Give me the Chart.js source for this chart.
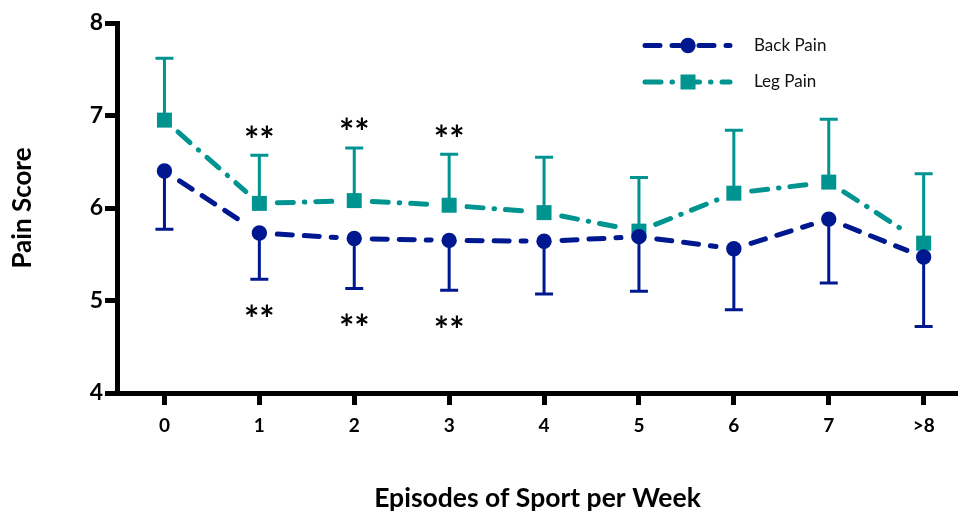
<!DOCTYPE html>
<html>
<head>
<meta charset="utf-8">
<script src="https://cdn.jsdelivr.net/npm/chart.js@4.4.1/dist/chart.umd.min.js"></script>
<style>
  html, body { margin: 0; padding: 0; background: #ffffff; }
  #wrap { width: 958px; height: 511px; }
</style>
</head>
<body>
<div id="wrap"><canvas id="chart" width="958" height="511"></canvas></div>
<script>
// Episodes of sport per week (x categories)
const categories = ['0', '1', '2', '3', '4', '5', '6', '7', '>8'];
// Mean pain scores
const backPain = [6.40, 5.73, 5.67, 5.65, 5.64, 5.69, 5.56, 5.88, 5.47];
const legPain  = [6.95, 6.05, 6.08, 6.03, 5.95, 5.75, 6.16, 6.28, 5.62];
// Error bar lengths (back drawn downward, leg drawn upward)
const backErr = [0.63, 0.50, 0.54, 0.54, 0.57, 0.59, 0.66, 0.69, 0.75];
const legErr  = [0.67, 0.52, 0.57, 0.55, 0.60, 0.58, 0.68, 0.68, 0.75];
// Y axis ticks
const yTicks = [4, 5, 6, 7, 8];
// Categories flagged as significant (**)
const significant = [1, 2, 3];

const BACK = '#00188f';
const LEG = '#009490';
const BACK_DASH = [15, 12];
const LEG_DASH = [16, 11, 0.5, 11];
const FONT = 'Lato';
const MARKER_GAP = 18;

function toPoints(values) {
  return values.map((v, i) => ({ x: i, y: v }));
}

// Connecting lines that stop short of each marker, plus error bars
const seriesLines = {
  id: 'seriesLines',
  beforeDatasetsDraw(chart) {
    const ctx = chart.ctx;
    const yScale = chart.scales.y;
    for (let d = chart.data.datasets.length - 1; d >= 0; d--) {
      const ds = chart.data.datasets[d];
      const meta = chart.getDatasetMeta(d);
      const pts = meta.data;
      ctx.save();
      ctx.strokeStyle = ds.lineColor;
      ctx.lineWidth = 5;
      ctx.lineCap = 'round';
      ctx.setLineDash(ds.lineDash);
      for (let i = 0; i < pts.length - 1; i++) {
        const p = pts[i], q = pts[i + 1];
        const dx = q.x - p.x, dy = q.y - p.y;
        const len = Math.hypot(dx, dy);
        const ux = dx / len, uy = dy / len;
        ctx.lineDashOffset = 0;
        ctx.beginPath();
        ctx.moveTo(p.x + ux * MARKER_GAP, p.y + uy * MARKER_GAP);
        ctx.lineTo(q.x - ux * MARKER_GAP, q.y - uy * MARKER_GAP);
        ctx.stroke();
      }
      ctx.restore();

      // error bars
      ctx.save();
      ctx.strokeStyle = ds.lineColor;
      ctx.lineWidth = 3;
      ctx.lineCap = 'butt';
      ctx.setLineDash([]);
      pts.forEach((p, i) => {
        const v = ds.means[i];
        const end = ds.errDir > 0 ? v + ds.errors[i] : v - ds.errors[i];
        const ey = yScale.getPixelForValue(end);
        ctx.beginPath();
        ctx.moveTo(p.x, p.y);
        ctx.lineTo(p.x, ey);
        ctx.moveTo(p.x - 9, ey);
        ctx.lineTo(p.x + 9, ey);
        ctx.stroke();
      });
      ctx.restore();
    }
  },
  afterDatasetsDraw(chart) {
    const ctx = chart.ctx;
    const xs = chart.scales.x, ys = chart.scales.y;
    ctx.save();
    ctx.fillStyle = '#000';
    ctx.font = `bold 36px ${FONT}`;
    ctx.textAlign = 'center';
    ctx.textBaseline = 'alphabetic';
    const m = ctx.measureText('**');
    const shift = (m.actualBoundingBoxAscent - m.actualBoundingBoxDescent) / 2;
    significant.forEach(i => {
      const x = xs.getPixelForValue(i);
      const top = ys.getPixelForValue(legPain[i] + legErr[i]) - 24;
      const bot = ys.getPixelForValue(backPain[i] - backErr[i]) + 31;
      ctx.fillText('**', x, top + shift);
      ctx.fillText('**', x, bot + shift);
    });
    ctx.restore();
  },
  afterDraw(chart) {
    const ctx = chart.ctx;
    const items = [
      { label: 'Back Pain', color: BACK, dash: BACK_DASH, style: 'circle', y: 45.5 },
      { label: 'Leg Pain', color: LEG, dash: LEG_DASH, style: 'rect', y: 82 }
    ];
    items.forEach(it => {
      ctx.save();
      ctx.strokeStyle = it.color;
      ctx.fillStyle = it.color;
      ctx.lineWidth = 5;
      ctx.lineCap = 'round';
      ctx.setLineDash(it.dash);
      ctx.beginPath();
      ctx.moveTo(645, it.y);
      ctx.lineTo(730, it.y);
      ctx.stroke();
      ctx.setLineDash([]);
      if (it.style === 'circle') {
        ctx.beginPath();
        ctx.arc(688, it.y, 7.7, 0, Math.PI * 2);
        ctx.fill();
      } else {
        ctx.fillRect(688 - 7.5, it.y - 7.5, 15, 15);
      }
      ctx.fillStyle = '#111';
      ctx.font = `17px ${FONT}`;
      ctx.textAlign = 'left';
      ctx.textBaseline = 'middle';
      ctx.fillText(it.label, 754, it.y);
      ctx.restore();
    });
  }
};

const axisGrid = {
  drawOnChartArea: false,
  drawTicks: true,
  tickLength: 12,
  tickWidth: 5,
  tickColor: '#000'
};
const axisBorder = { display: true, width: 5, color: '#000' };

new Chart(document.getElementById('chart'), {
  type: 'line',
  data: {
    datasets: [
      {
        label: 'Back Pain',
        data: toPoints(backPain),
        means: backPain,
        errors: backErr,
        errDir: -1,
        lineColor: BACK,
        lineDash: BACK_DASH,
        showLine: false,
        pointStyle: 'circle',
        pointRadius: 7.7,
        pointBorderWidth: 0,
        pointBackgroundColor: BACK,
        borderColor: BACK
      },
      {
        label: 'Leg Pain',
        data: toPoints(legPain),
        means: legPain,
        errors: legErr,
        errDir: 1,
        lineColor: LEG,
        lineDash: LEG_DASH,
        showLine: false,
        pointStyle: 'rect',
        pointRadius: 10.6,
        pointBorderWidth: 0,
        pointBackgroundColor: LEG,
        borderColor: LEG
      }
    ]
  },
  options: {
    responsive: false,
    animation: false,
    devicePixelRatio: 1,
    layout: { autoPadding: false, padding: { top: 23, right: 0, bottom: 0, left: 0 } },
    plugins: { legend: { display: false }, tooltip: { enabled: false } },
    scales: {
      x: {
        type: 'linear',
        min: -0.5,
        max: 8.362,
        afterBuildTicks: s => { s.ticks = categories.map((c, i) => ({ value: i })); },
        afterFit: s => { s.height = 118; s.paddingLeft = 0; s.paddingRight = 0; },
        ticks: {
          callback: v => categories[v],
          font: { family: FONT, size: 19, weight: 'bold' },
          color: '#000',
          padding: 9,
          maxRotation: 0,
          autoSkip: false
        },
        grid: axisGrid,
        border: axisBorder,
        title: {
          display: true,
          text: 'Episodes of Sport per Week',
          font: { family: FONT, size: 26.5, weight: 'bold' },
          color: '#000',
          padding: { top: 0, bottom: -3 }
        }
      },
      y: {
        min: 4,
        max: 8,
        afterBuildTicks: s => { s.ticks = yTicks.map(v => ({ value: v })); },
        afterFit: s => { s.width = 117; },
        ticks: {
          font: { family: FONT, size: 23, weight: 'bold' },
          color: '#000',
          padding: 2
        },
        grid: axisGrid,
        border: axisBorder,
        title: {
          display: true,
          text: 'Pain Score',
          font: { family: FONT, size: 26, weight: 'bold' },
          color: '#000',
          padding: { top: 7, bottom: 0 }
        }
      }
    }
  },
  plugins: [seriesLines]
});
</script>
</body>
</html>
